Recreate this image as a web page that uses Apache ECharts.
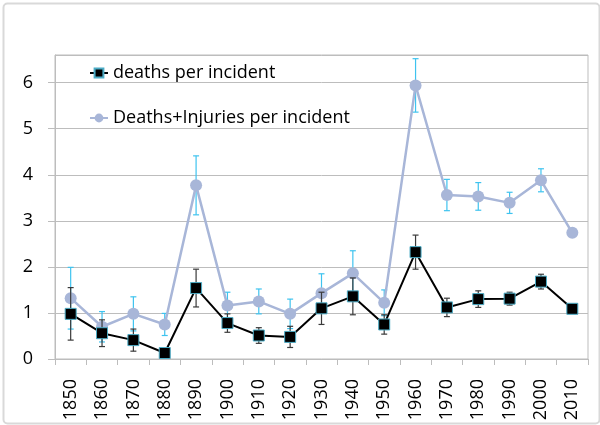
<!DOCTYPE html>
<html>
<head>
<meta charset="utf-8">
<script src="https://cdn.jsdelivr.net/npm/echarts@6/dist/echarts.min.js"></script>
<style>html,body{margin:0;padding:0;background:#fff;}#c{width:600px;height:425px;}</style>
</head>
<body>
<div id="c"></div>
<script>
const years = ['1850','1860','1870','1880','1890','1900','1910','1920','1930','1940','1950','1960','1970','1980','1990','2000','2010'];
const deaths = [0.98,0.56,0.41,0.13,1.54,0.78,0.51,0.48,1.10,1.36,0.75,2.32,1.12,1.30,1.31,1.68,1.09];
const deathsErr = [0.57,0.29,0.24,0.05,0.41,0.20,0.17,0.23,0.35,0.40,0.21,0.37,0.20,0.18,0.14,0.16,0.03];
const total = [1.32,0.70,0.98,0.75,3.77,1.16,1.25,0.98,1.43,1.86,1.22,5.94,3.56,3.53,3.39,3.88,2.74];
const totalErr = [0.67,0.33,0.37,0.24,0.64,0.29,0.27,0.32,0.42,0.49,0.28,0.58,0.34,0.30,0.23,0.25,0.06];
const yTicks = [0,1,2,3,4,5,6];

const FONT = 'Open Sans';
const chart = echarts.init(document.getElementById('c'), null, {renderer:'canvas'});

function errData(vals, errs){
  return vals.map((v,i)=>[i, v-errs[i], v+errs[i]]);
}
function errRender(color){
  return function(params, api){
    const lo = api.coord([api.value(0), api.value(1)]);
    const hi = api.coord([api.value(0), api.value(2)]);
    const w = 3;
    const st = {stroke: color, lineWidth: 1.2};
    return {type:'group', children:[
      {type:'line', shape:{x1:lo[0],y1:lo[1],x2:hi[0],y2:hi[1]}, style:st},
      {type:'line', shape:{x1:lo[0]-w,y1:lo[1],x2:lo[0]+w,y2:lo[1]}, style:st},
      {type:'line', shape:{x1:hi[0]-w,y1:hi[1],x2:hi[0]+w,y2:hi[1]}, style:st}
    ]};
  };
}

const option = {
  animation: false,
  backgroundColor: '#fff',
  graphic: [{
    type:'rect', left:1, top:1, shape:{width:596, height:420, r:4},
    style:{fill:'none', stroke:'#D9D9D9', lineWidth:2}, silent:true, z:-1
  }],
  grid: {left:55, right:12, top:55, bottom:66, show:true, borderColor:'#BDBDBD', borderWidth:1},
  legend: {
    data:['deaths per incident','Deaths+Injuries per incident'],
    orient:'vertical', left:84, top:58, itemGap:25, itemWidth:18, itemHeight:11,
    textStyle:{fontFamily:FONT, fontSize:18, color:'#000', lineHeight:20}
  },
  xAxis: {
    type:'category', data: years, boundaryGap:true,
    axisLine:{show:true, lineStyle:{color:'#BDBDBD', width:1}},
    axisTick:{show:true, alignWithLabel:false, length:6, lineStyle:{color:'#BDBDBD'}},
    axisLabel:{rotate:90, margin:20, fontFamily:FONT, fontSize:18, color:'#000', interval:0}
  },
  yAxis: {
    type:'value', min:0, max:6.6, interval:1,
    axisLine:{show:true, lineStyle:{color:'#BDBDBD', width:1}},
    axisTick:{show:true, length:7, lineStyle:{color:'#BDBDBD'}},
    axisLabel:{margin:22, fontFamily:FONT, fontSize:18, color:'#000', showMaxLabel:false,
      formatter: v => yTicks.indexOf(v) >= 0 ? String(v) : ''},
    splitLine:{show:true, lineStyle:{color:'#BDBDBD', width:1}}
  },
  series: [
    {
      type:'custom', name:'totalErr', renderItem: errRender('#3EC3EF'),
      data: errData(total, totalErr), encode:{x:0, y:[1,2]}, z:2, silent:true
    },
    {
      type:'line', name:'Deaths+Injuries per incident', data: total,
      symbol:'circle', symbolSize:12,
      lineStyle:{color:'#A8B6D8', width:2.5},
      itemStyle:{color:'#A8B6D8', borderColor:'#A8B6D8', borderWidth:0},
      z:3
    },
    {
      type:'custom', name:'deathsErr', renderItem: errRender('#3A3A3A'),
      data: errData(deaths, deathsErr), encode:{x:0, y:[1,2]}, z:4, silent:true
    },
    {
      type:'line', name:'deaths per incident', data: deaths,
      symbol:'rect', symbolSize:11,
      lineStyle:{color:'#000', width:2},
      itemStyle:{color:'#000', borderColor:'#4BACC6', borderWidth:1},
      z:5
    }
  ]
};
chart.setOption(option);
</script>
</body>
</html>
